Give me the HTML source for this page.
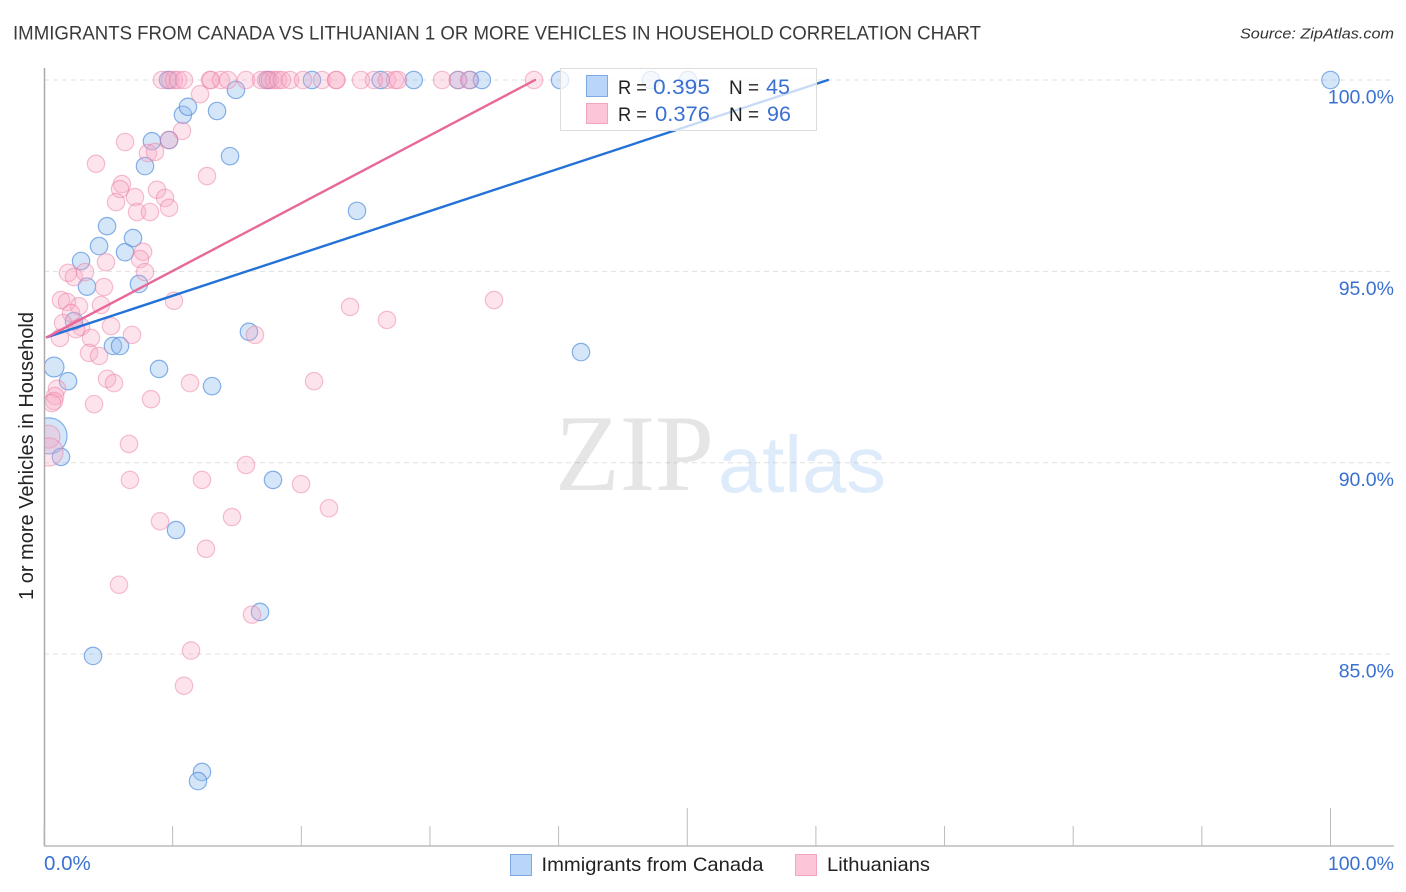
<!DOCTYPE html>
<html lang="en">
<head>
<meta charset="utf-8">
<title>Immigrants from Canada vs Lithuanian 1 or more Vehicles in Household Correlation Chart</title>
<style>
html,body{margin:0;padding:0;background:#fff;}
body{width:1406px;height:892px;overflow:hidden;}
svg{display:block;font-family:"Liberation Sans",sans-serif;}
</style>
</head>
<body>
<svg id="chart" width="1406" height="892" viewBox="0 0 1406 892">
  <text x="13" y="39.5" font-size="19.5" fill="#3a3a3a" textLength="968" lengthAdjust="spacingAndGlyphs">IMMIGRANTS FROM CANADA VS LITHUANIAN 1 OR MORE VEHICLES IN HOUSEHOLD CORRELATION CHART</text>
  <text x="1394" y="38.5" font-size="15" font-style="italic" fill="#333" text-anchor="end" textLength="154" lengthAdjust="spacingAndGlyphs">Source: ZipAtlas.com</text>
  <text transform="translate(33,456) rotate(-90)" font-size="20" fill="#222" text-anchor="middle">1 or more Vehicles in Household</text>
  <g id="grid"></g>
  <g>
    <text x="555" y="490" font-family="'Liberation Serif',serif" font-size="109" fill="#000" fill-opacity="0.1" textLength="159" lengthAdjust="spacingAndGlyphs">ZIP</text>
    <text x="718" y="492" font-size="80" fill="#6aa5e8" fill-opacity="0.22" textLength="168" lengthAdjust="spacingAndGlyphs">atlas</text>
  </g>
  <g id="axes"></g>
  <svg x="45" y="60" width="1349" height="786" viewBox="45 60 1349 786" overflow="hidden">
    <g id="points"></g>
  </svg>
  <g id="trends"></g>
  <g>
    <rect x="560.5" y="68.5" width="256" height="62" fill="#fff" fill-opacity="0.75" stroke="#ddd"/>
    <rect x="586.5" y="75.5" width="21" height="21" fill="#b9d5f7" stroke="#7ea9e2"/>
    <rect x="586.5" y="103.5" width="21" height="20" fill="#fcc5d8" stroke="#f0a6c0"/>
    <g font-size="19.5" fill="#222">
      <text x="618" y="94" textLength="29" lengthAdjust="spacingAndGlyphs">R =</text>
      <text x="729" y="94" textLength="30" lengthAdjust="spacingAndGlyphs">N =</text>
      <text x="618" y="121" textLength="29" lengthAdjust="spacingAndGlyphs">R =</text>
      <text x="729" y="121" textLength="30" lengthAdjust="spacingAndGlyphs">N =</text>
    </g>
    <g font-size="21.5" fill="#3a70d2">
      <text x="653" y="94" textLength="57" lengthAdjust="spacingAndGlyphs">0.395</text>
      <text x="766" y="94">45</text>
      <text x="655" y="121" textLength="55" lengthAdjust="spacingAndGlyphs">0.376</text>
      <text x="767" y="121">96</text>
    </g>
  </g>
  <g>
    <rect x="510.5" y="854.5" width="21" height="21" fill="#b9d5f7" stroke="#7ea9e2"/>
    <text x="541.5" y="871" font-size="19.5" fill="#222" textLength="222" lengthAdjust="spacingAndGlyphs">Immigrants from Canada</text>
    <rect x="795.5" y="854.5" width="21" height="21" fill="#fcc5d8" stroke="#f0a6c0"/>
    <text x="827" y="871" font-size="19.5" fill="#222" textLength="103" lengthAdjust="spacingAndGlyphs">Lithuanians</text>
  </g>
</svg>
<script>
const yTickValues = [100, 95, 90, 85];
const yTickLabels = ["100.0%", "95.0%", "90.0%", "85.0%"];
const xTickValues = [0, 10, 20, 30, 40, 50, 60, 70, 80, 90, 100];
const xEndValues = [0, 100];
const xEndLabels = ["0.0%", "100.0%"];

const canadaX = [0.39,1.32,0.78,1.87,3.81,2.33,3.34,2.88,4.28,4.9,6.3,6.92,7.38,5.36,5.91,8.94,15.93,13.06,7.85,8.39,9.72,10.8,11.19,13.45,14.92,14.46,24.33,41.74,17.8,10.26,16.79,12.28,11.97,9.64,17.4,20.83,26.17,28.74,32.18,33.11,34.04,40.11,47.18,50.06,100];
const canadaY = [90.7,90.15,92.5,92.13,84.95,93.7,94.6,95.27,95.66,96.18,95.5,95.87,94.67,93.05,93.05,92.45,93.42,92,97.75,98.4,98.43,99.09,99.3,99.19,99.74,98.01,96.58,92.89,89.55,88.24,86.1,81.92,81.68,100,100,100,100,100,100,100,100,100,100,100,100];
const canadaWeight = [4.3,1,1.3];

const lithuaniansX = [0.35,0.39,9.17,9.79,10.1,10.42,10.88,12.9,12.98,13.76,14.3,15.7,16.87,17.26,17.57,17.88,18.19,18.5,19.12,20.13,21.61,22.7,22.74,24.64,25.65,26.66,27.28,27.52,30.94,32.18,33.04,38.09,12.13,10.73,6.3,4.04,8.08,8.63,9.72,12.67,6.06,5.91,5.6,7.07,8.78,9.41,9.72,7.23,8.24,7.7,7.46,7.85,4.82,1.87,2.33,3.19,4.66,1.32,1.79,2.72,2.1,4.43,1.48,2.88,2.49,5.21,1.24,3.65,6.84,10.1,16.4,23.79,26.66,34.98,3.5,4.28,4.9,5.44,11.35,20.99,1.01,0.86,0.78,0.62,3.89,8.32,6.61,15.7,6.68,12.28,19.98,22.15,9.02,14.61,12.59,5.83,16.17,11.43,10.88];
const lithuaniansY = [90.68,90.28,100,100,100,100,100,100,100,100,100,100,100,100,100,100,100,100,100,100,100,100,100,100,100,100,100,100,100,100,100,100,99.63,98.67,98.38,97.81,98.09,98.12,98.43,97.49,97.28,97.15,96.81,96.94,97.13,96.92,96.66,96.55,96.55,95.51,95.32,94.98,95.24,94.96,94.85,94.98,94.59,94.25,94.2,94.09,93.91,94.12,93.65,93.55,93.49,93.57,93.26,93.26,93.34,94.23,93.34,94.07,93.73,94.25,92.87,92.79,92.19,92.08,92.08,92.13,91.93,91.74,91.61,91.56,91.53,91.66,90.49,89.94,89.55,89.55,89.44,88.81,88.47,88.58,87.75,86.81,86.03,85.09,84.17];
const lithuaniansWeight = [1.75,2.6];

const canadaTrendX = [0.23, 60.94];
const canadaTrendY = [93.28, 100];
const lithuaniansTrendX = [0.23, 38.17];
const lithuaniansTrendY = [93.28, 100];

const xScale = function (v) { return 44 + v * 12.865; };
const yScale = function (v) { return 80 + (100 - v) * 38.27; };
const radiusScale = function (w) { return 8.7 * Math.sqrt(w || 1); };
const NS = "http://www.w3.org/2000/svg";

function make(tag, parent, attrs, text) {
  const el = document.createElementNS(NS, tag);
  Object.keys(attrs).forEach(function (k) { el.setAttribute(k, attrs[k]); });
  if (text !== undefined) el.textContent = text;
  parent.appendChild(el);
  return el;
}

const gridGroup = document.getElementById("grid");
const axesGroup = document.getElementById("axes");
const pointsGroup = document.getElementById("points");
const trendsGroup = document.getElementById("trends");

yTickValues.forEach(function (v, i) {
  const y = yScale(v);
  const line = make("line", gridGroup, {x1: 44, x2: 1394, y1: y, y2: y, stroke: "#e0e0e0", "stroke-width": 1, "stroke-dasharray": "5 4"});
  
  
  const label = make("text", axesGroup, {x: 1394, y: y + 23.5, "font-size": 19.5, fill: "#3a70d2", "text-anchor": "end"}, yTickLabels[i]);
  
  
});

const yAxis = make("line", axesGroup, {x1: 44.5, x2: 44.5, y1: 68, y2: 846, stroke: "#aaa", "stroke-width": 1.5});


const xAxis = make("line", axesGroup, {x1: 44, x2: 1394, y1: 846, y2: 846, stroke: "#bbb", "stroke-width": 1.5});



xTickValues.forEach(function (v) {
  const x = xScale(v);
  const major = v === 50 || v === 100;
  const tick = make("line", axesGroup, {x1: x, x2: x, y1: major ? 808 : 826, y2: 846, stroke: "#bbb", "stroke-width": 1});
  
  
});

xEndValues.forEach(function (v, i) {
  const anchorEnd = v > 50;
  const label = make("text", axesGroup, {x: anchorEnd ? 1394 : xScale(v), y: 870, "font-size": anchorEnd ? 19.5 : 20.5, fill: "#3a70d2", "text-anchor": anchorEnd ? "end" : "start"}, xEndLabels[i]);
  
  
});

canadaX.forEach(function (v, i) {
  const dot = make("circle", pointsGroup, {cx: xScale(v), cy: yScale(canadaY[i]), r: radiusScale(canadaWeight[i]), fill: "#93bef0", "fill-opacity": 0.38, stroke: "#4f8ddc", "stroke-opacity": 0.68, "stroke-width": 1.2});
  
  
});

lithuaniansX.forEach(function (v, i) {
  const dot = make("circle", pointsGroup, {cx: xScale(v), cy: yScale(lithuaniansY[i]), r: radiusScale(lithuaniansWeight[i]), fill: "#f8a9c4", "fill-opacity": 0.32, stroke: "#ea7da3", "stroke-opacity": 0.48, "stroke-width": 1.2});
  
  
});

const canadaTrend = make("line", trendsGroup, {x1: xScale(canadaTrendX[0]), y1: yScale(canadaTrendY[0]), x2: xScale(canadaTrendX[1]), y2: yScale(canadaTrendY[1]), stroke: "#2472d8", "stroke-width": 2.4, "stroke-linecap": "round"});


const lithuaniansTrend = make("line", trendsGroup, {x1: xScale(lithuaniansTrendX[0]), y1: yScale(lithuaniansTrendY[0]), x2: xScale(lithuaniansTrendX[1]), y2: yScale(lithuaniansTrendY[1]), stroke: "#e8689a", "stroke-width": 2.4, "stroke-linecap": "round"});


</script>
</body>
</html>
